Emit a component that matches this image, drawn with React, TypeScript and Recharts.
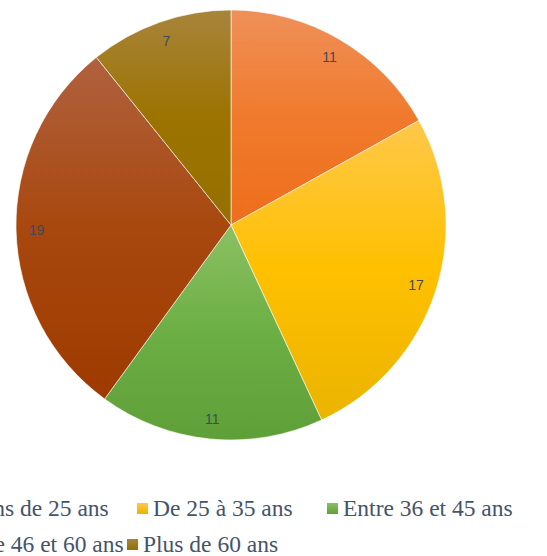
import React from "react";
import { PieChart, Pie, Cell, Legend } from "recharts";

const categories = [
  "Moins de 25 ans",
  "De 25 à 35 ans",
  "Entre 36 et 45 ans",
  "Entre 46 et 60 ans",
  "Plus de 60 ans",
];
const values = [11, 17, 11, 19, 7];
const baseColors = ["#F07A2C", "#FFC000", "#6CAF44", "#A8480E", "#9C7300"];
const topColors = ["#EF9059", "#FFC84A", "#8CC063", "#B0613F", "#A8843C"];
const bottomColors = ["#EE6E1C", "#EBB400", "#5F9F38", "#9E3A00", "#957000"];

// legend item positions (left of square), two rows
const legendPos = [
  { x: -62, y: 495 },
  { x: 137, y: 495 },
  { x: 327, y: 495 },
  { x: -62, y: 531 },
  { x: 127, y: 531 },
];

const data = categories.map((name, i) => ({ name, value: values[i] }));

const RAD = Math.PI / 180;

const renderLabel = (props: any) => {
  const { cx, cy, outerRadius, midAngle, value } = props;
  const r = outerRadius * 0.905;
  const x = cx + r * Math.cos(-midAngle * RAD);
  const y = cy + r * Math.sin(-midAngle * RAD);
  return (
    <text
      x={x}
      y={y}
      fill="#404A5A"
      fontSize={14}
      fontFamily="'Liberation Sans', Arial, sans-serif"
      textAnchor="middle"
      dominantBaseline="central"
    >
      {value}
    </text>
  );
};

const renderLegend = () => (
  <div style={{ position: "relative", width: 547, height: 70 }}>
    {categories.map((name, i) => (
      <div
        key={name}
        style={{
          position: "absolute",
          left: legendPos[i].x,
          top: legendPos[i].y - 490,
          display: "flex",
          alignItems: "center",
          whiteSpace: "nowrap",
          fontFamily: "'Liberation Serif', 'Times New Roman', serif",
          fontSize: 23.5,
          color: "#44546A",
          lineHeight: "26px",
        }}
      >
        <span
          style={{
            display: "inline-block",
            width: 11,
            height: 11,
            marginRight: 5,
            background: `linear-gradient(${topColors[i]}, ${bottomColors[i]})`,
          }}
        />
        {name}
      </div>
    ))}
  </div>
);

export default function App() {
  return (
    <div style={{ position: "absolute", left: 0, top: 0, width: 547, height: 556, background: "#fff", overflow: "hidden" }}>
      <PieChart width={547} height={556} margin={{ top: 0, right: 0, bottom: 0, left: 0 }}>
        <defs>
          {categories.map((_, i) => (
            <linearGradient key={i} id={`grad${i}`} x1="0" y1="0" x2="0" y2="1">
              <stop offset="0%" stopColor={topColors[i]} />
              <stop offset="50%" stopColor={baseColors[i]} />
              <stop offset="100%" stopColor={bottomColors[i]} />
            </linearGradient>
          ))}
        </defs>
        <Pie
          data={data}
          dataKey="value"
          nameKey="name"
          cx={231}
          cy={225}
          outerRadius={215}
          startAngle={90}
          endAngle={-270}
          stroke="#ffffff"
          strokeWidth={0.6}
          label={renderLabel}
          labelLine={false}
          isAnimationActive={false}
        >
          {data.map((_, i) => (
            <Cell key={i} fill={`url(#grad${i})`} />
          ))}
        </Pie>
        <Legend
          content={renderLegend}
          wrapperStyle={{ position: "absolute", left: 0, top: 490, width: 547, height: 66 }}
        />
      </PieChart>
    </div>
  );
}
